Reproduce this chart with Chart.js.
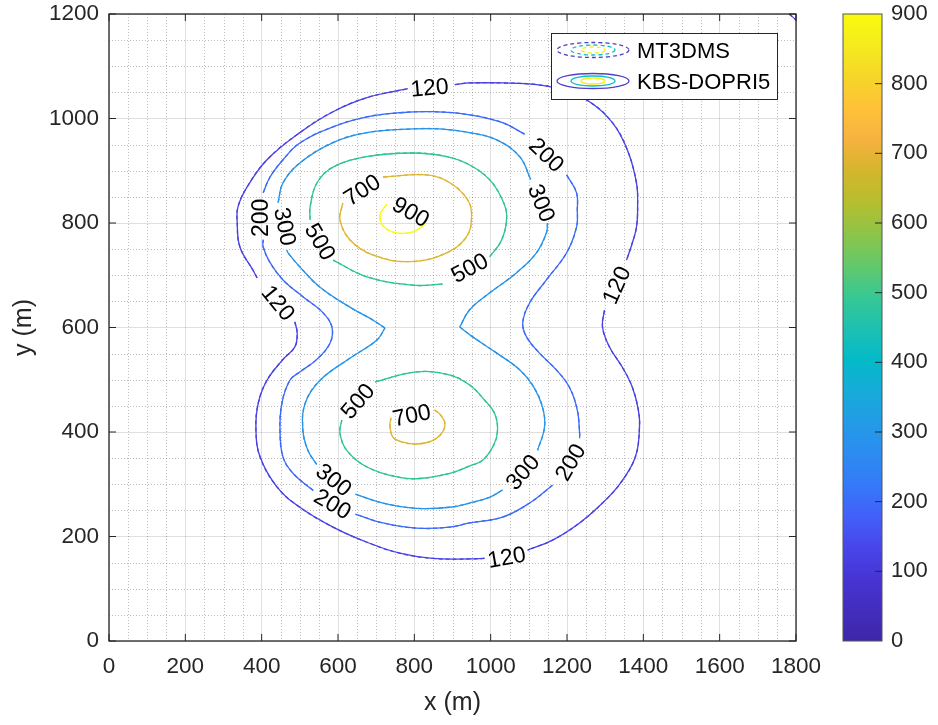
<!DOCTYPE html>
<html>
<head>
<meta charset="utf-8">
<script src="https://cdn.jsdelivr.net/npm/chart.js@4.4.0/dist/chart.umd.min.js"></script>
<style>
  html, body { margin: 0; padding: 0; background: #fff; }
</style>
</head>
<body>
<canvas id="contourChart" width="938" height="725"></canvas>
<script>
// axis ticks
const xTicks = [0, 200, 400, 600, 800, 1000, 1200, 1400, 1600, 1800];
const yTicks = [0, 200, 400, 600, 800, 1000, 1200];
const cbTicks = [0, 100, 200, 300, 400, 500, 600, 700, 800, 900];

// contour levels (concentration)
const levels = [120, 200, 300, 500, 700, 900];

// KBS-DOPRI5 contour lines, [x (m), y (m)], split where the inline labels sit
const kbs120 = [
  [[906, 1065], [945, 1068], [1031, 1068], [1120, 1065], [1188, 1055], [1259, 1032], [1319, 992], [1358, 940], [1382, 877], [1385, 834], [1382, 792], [1369, 757], [1356, 729]],
  [[1298, 633], [1293, 601], [1311, 563], [1345, 524], [1371, 486], [1387, 442], [1390, 409], [1379, 352], [1340, 302], [1293, 264], [1233, 226], [1162, 193], [1097, 174]],
  [[984, 158], [945, 157], [848, 158], [762, 168], [676, 189], [587, 218], [500, 256], [440, 295], [396, 352], [385, 404], [391, 455], [414, 499], [456, 539], [487, 563], [493, 589], [487, 611]],
  [[388, 695], [377, 710], [343, 754], [336, 800], [338, 831], [362, 869], [414, 921], [500, 973], [587, 1013], [676, 1040], [783, 1057]],
  [[1782, 1200], [1800, 1189]]
];
const kbs200 = [
  [[404, 858], [422, 888], [456, 921], [500, 953], [587, 984], [676, 1003], [762, 1011], [848, 1013], [945, 1007], [1031, 992], [1089, 970]],
  [[1199, 892], [1225, 858], [1227, 825], [1225, 792], [1199, 743], [1146, 691], [1102, 647], [1084, 609], [1094, 582], [1128, 551], [1172, 519], [1206, 486], [1227, 442], [1233, 398], [1233, 388]],
  [[1162, 298], [1102, 264], [1031, 237], [945, 226], [893, 218], [806, 216], [718, 226], [645, 243]],
  [[535, 288], [482, 321], [456, 352], [448, 403], [453, 455], [474, 499], [500, 515], [543, 538], [579, 570], [584, 601], [561, 628], [508, 659], [456, 691], [422, 724], [404, 754], [404, 768]]
];
const kbs300 = [
  [[443, 839], [456, 877], [500, 915], [587, 954], [676, 973], [796, 980], [867, 980], [945, 973], [1016, 959], [1076, 927], [1105, 883]],
  [[1149, 800], [1146, 781], [1120, 743], [1068, 705], [997, 666], [945, 634], [919, 601]],
  [[919, 601], [953, 582], [1016, 551], [1076, 519], [1113, 486], [1136, 447], [1141, 409], [1123, 365]],
  [[1031, 289], [997, 275], [945, 264], [893, 256], [806, 254], [718, 264], [645, 281]],
  [[544, 338], [521, 365], [508, 404], [514, 455], [553, 499], [631, 541], [702, 576], [723, 599]],
  [[723, 599], [692, 614], [631, 639], [553, 677], [500, 716], [469, 743], [466, 748]]
];
const kbs500 = [
  [[527, 806], [527, 831], [545, 877], [587, 907], [676, 927], [796, 934], [885, 927], [945, 911], [997, 883], [1031, 844], [1042, 812], [1029, 768], [997, 735]],
  [[874, 683], [796, 681], [676, 697], [587, 729]],
  [[697, 496], [806, 515], [893, 509], [945, 490], [984, 461], [1010, 436], [1018, 404], [1008, 375], [979, 346], [945, 335], [893, 321], [814, 311], [762, 313], [676, 333], [623, 365], [605, 398], [610, 423]]
];
const kbs700 = [
  [[718, 888], [833, 892], [893, 877], [940, 844], [950, 812], [937, 774], [885, 743], [788, 726], [691, 739], [631, 768], [605, 806], [610, 831], [613, 838]],
  [[853, 442], [867, 434], [880, 417], [872, 398], [846, 383], [806, 377], [767, 381], [744, 390], [736, 413], [739, 427]]
];
const kbs900 = [
  [[728, 836], [710, 815], [720, 793], [754, 781], [796, 783], [827, 797]]
];

// MT3DMS lines lie on top of the KBS-DOPRI5 lines at this scale
const mt3dms120 = kbs120;
const mt3dms200 = kbs200;
const mt3dms300 = kbs300;
const mt3dms500 = kbs500;
const mt3dms700 = kbs700;
const mt3dms900 = kbs900;

// inline contour labels: [level, x (m), y (m), angle in degrees]
const contourLabels = [
  [120, 840, 1059, -5], [120, 443, 647, 51], [120, 1330, 681, -66], [120, 1042, 160, -10],
  [200, 398, 810, -90], [200, 1146, 930, 44], [200, 586, 262, 30], [200, 1209, 342, -60],
  [300, 461, 793, 79], [300, 1133, 838, 68], [300, 589, 308, 38], [300, 1084, 323, -49],
  [500, 553, 764, 60], [500, 945, 714, -28], [500, 652, 459, -49],
  [700, 663, 863, -33], [700, 793, 432, -12],
  [900, 791, 821, 30]
];

const kbsLines = [kbs120, kbs200, kbs300, kbs500, kbs700, kbs900];
const mtLines = [mt3dms120, mt3dms200, mt3dms300, mt3dms500, mt3dms700, mt3dms900];

const levelColors = ['rgb(72,66,230)', 'rgb(60,106,250)', 'rgb(38,148,235)', 'rgb(46,196,150)', 'rgb(222,182,48)', 'rgb(249,251,14)'];
const parula = [
  [0, 'rgb(62,38,168)'], [0.1, 'rgb(71,52,212)'], [0.15, 'rgb(72,70,235)'], [0.2, 'rgb(66,96,250)'],
  [0.25, 'rgb(52,122,248)'], [0.3, 'rgb(44,140,240)'], [0.35, 'rgb(34,156,230)'], [0.4, 'rgb(22,172,216)'],
  [0.45, 'rgb(4,186,200)'], [0.5, 'rgb(30,193,176)'], [0.55, 'rgb(56,200,146)'], [0.6, 'rgb(100,201,106)'],
  [0.65, 'rgb(142,196,72)'], [0.7, 'rgb(182,190,46)'], [0.75, 'rgb(212,182,44)'], [0.8, 'rgb(246,178,64)'],
  [0.85, 'rgb(254,194,56)'], [0.9, 'rgb(246,214,40)'], [0.95, 'rgb(245,235,30)'], [1, 'rgb(249,251,14)']
];

const fontFamily = "'Liberation Sans', Arial, Helvetica, sans-serif";
const axisGray = '#262626';

function buildDatasets(lines, dashed) {
  const out = [];
  levels.forEach((lv, i) => {
    lines[i].forEach(seg => {
      out.push({
        label: (dashed ? 'MT3DMS ' : 'KBS-DOPRI5 ') + lv,
        data: seg.map(p => ({ x: p[0], y: p[1] })),
        borderColor: levelColors[i],
        borderWidth: 1.3,
        borderDash: dashed ? [4, 3] : [],
        showLine: true,
        tension: 0.4,
        pointRadius: 0,
        fill: false
      });
    });
  });
  return out;
}

const matlabLook = {
  id: 'matlabLook',
  beforeDatasetsDraw(chart) {
    const { ctx, chartArea: a, scales: { x, y } } = chart;
    ctx.save();
    ctx.strokeStyle = 'rgba(38,38,38,0.3)';
    ctx.lineWidth = 1;
    ctx.setLineDash([1, 2]);
    for (let v = 50; v < x.max; v += 50) {
      if (v % 200 === 0) continue;
      const px = Math.round(x.getPixelForValue(v)) + 0.5;
      ctx.beginPath(); ctx.moveTo(px, a.top); ctx.lineTo(px, a.bottom); ctx.stroke();
    }
    for (let v = 50; v < y.max; v += 50) {
      if (v % 200 === 0) continue;
      const py = Math.round(y.getPixelForValue(v)) + 0.5;
      ctx.beginPath(); ctx.moveTo(a.left, py); ctx.lineTo(a.right, py); ctx.stroke();
    }
    ctx.restore();
  },
  afterDatasetsDraw(chart) {
    const { ctx, chartArea: a, scales: { x, y } } = chart;
    ctx.save();

    // contour labels
    ctx.fillStyle = '#000';
    ctx.font = '23px ' + fontFamily;
    ctx.textAlign = 'center';
    ctx.textBaseline = 'middle';
    contourLabels.forEach(([lv, lx, ly, ang]) => {
      ctx.save();
      ctx.translate(x.getPixelForValue(lx), y.getPixelForValue(ly));
      ctx.rotate(ang * Math.PI / 180);
      ctx.fillText(String(lv), 0, 1);
      ctx.restore();
    });

    // axes box and inward ticks
    ctx.strokeStyle = axisGray;
    ctx.lineWidth = 1.3;
    ctx.setLineDash([]);
    ctx.strokeRect(a.left, a.top, a.right - a.left, a.bottom - a.top);
    ctx.lineWidth = 1;
    xTicks.forEach(v => {
      const px = x.getPixelForValue(v);
      ctx.beginPath();
      ctx.moveTo(px, a.bottom); ctx.lineTo(px, a.bottom - 7);
      ctx.moveTo(px, a.top); ctx.lineTo(px, a.top + 7);
      ctx.stroke();
    });
    yTicks.forEach(v => {
      const py = y.getPixelForValue(v);
      ctx.beginPath();
      ctx.moveTo(a.left, py); ctx.lineTo(a.left + 7, py);
      ctx.moveTo(a.right, py); ctx.lineTo(a.right - 7, py);
      ctx.stroke();
    });

    // axis titles
    ctx.fillStyle = axisGray;
    ctx.font = '25px ' + fontFamily;
    ctx.textAlign = 'center';
    ctx.textBaseline = 'middle';
    ctx.fillText('x (m)', (a.left + a.right) / 2, 703);
    ctx.save();
    ctx.translate(24, (a.top + a.bottom) / 2);
    ctx.rotate(-Math.PI / 2);
    ctx.fillText('y (m)', 0, 0);
    ctx.restore();

    // legend
    const lx0 = a.right - 245, ly0 = a.top + 19, lw = 226, lh = 66;
    ctx.fillStyle = '#fff';
    ctx.fillRect(lx0, ly0, lw, lh);
    ctx.strokeStyle = axisGray;
    ctx.lineWidth = 1;
    ctx.strokeRect(lx0 + 0.5, ly0 + 0.5, lw, lh);
    const rings = [[36, 7.5, 'rgb(84,62,200)'], [22, 5, 'rgb(10,190,200)'], [12, 3, 'rgb(245,238,20)']];
    [[ly0 + 17, [4, 3], 'MT3DMS'], [ly0 + 48, [], 'KBS-DOPRI5']].forEach(([cy, dash, name]) => {
      const cx = lx0 + 42;
      ctx.lineWidth = 1.3;
      ctx.setLineDash(dash);
      rings.forEach(([rx, ry, col]) => {
        ctx.strokeStyle = col;
        ctx.beginPath();
        ctx.ellipse(cx, cy, rx, ry, 0, 0, Math.PI * 2);
        ctx.stroke();
      });
      ctx.setLineDash([]);
      ctx.fillStyle = '#000';
      ctx.font = '22px ' + fontFamily;
      ctx.textAlign = 'left';
      ctx.textBaseline = 'middle';
      ctx.fillText(name, lx0 + 86, cy + 2);
    });

    // colour bar, mapped through the y scale
    const cbMax = cbTicks[cbTicks.length - 1];
    const cbPix = v => y.getPixelForValue(v / cbMax * y.max);
    const cbL = a.right + 47, cbR = a.right + 86;
    const g = ctx.createLinearGradient(0, cbPix(0), 0, cbPix(cbMax));
    parula.forEach(([t, c]) => g.addColorStop(t, c));
    ctx.fillStyle = g;
    ctx.fillRect(cbL, cbPix(cbMax), cbR - cbL, cbPix(0) - cbPix(cbMax));
    ctx.strokeStyle = '#555';
    ctx.lineWidth = 1;
    ctx.strokeRect(cbL, cbPix(cbMax), cbR - cbL, cbPix(0) - cbPix(cbMax));
    ctx.strokeStyle = axisGray;
    ctx.fillStyle = axisGray;
    ctx.font = '22px ' + fontFamily;
    ctx.textAlign = 'left';
    ctx.textBaseline = 'middle';
    cbTicks.forEach(v => {
      const py = cbPix(v);
      if (v > 0 && v < cbMax) {
        ctx.beginPath(); ctx.moveTo(cbR, py); ctx.lineTo(cbR - 7, py); ctx.stroke();
      }
      ctx.fillText(String(v), cbR + 9, py);
    });

    ctx.restore();
  }
};

const ctx = document.getElementById('contourChart').getContext('2d');

Chart.defaults.font.family = fontFamily;
Chart.defaults.font.size = 22.5;
Chart.defaults.color = axisGray;

const config = {
  type: 'scatter',
  data: {
    datasets: buildDatasets(mtLines, true).concat(buildDatasets(kbsLines, false))
  },
  options: {
    responsive: false,
    animation: false,
    events: [],
    layout: {
      padding: { top: 14, right: 142, left: 0, bottom: 0 }
    },
    plugins: {
      legend: { display: false },
      tooltip: { enabled: false }
    },
    scales: {
      x: {
        type: 'linear',
        min: 0,
        max: 1800,
        afterBuildTicks: s => { s.ticks = xTicks.map(v => ({ value: v })); },
        afterFit: s => { s.height = 84; s.paddingLeft = 0; s.paddingRight = 0; },
        ticks: { padding: 12, callback: v => String(v) },
        grid: { color: 'rgba(38,38,38,0.15)', drawTicks: false },
        border: { display: false }
      },
      y: {
        type: 'linear',
        min: 0,
        max: 1200,
        afterBuildTicks: s => { s.ticks = yTicks.map(v => ({ value: v })); },
        afterFit: s => { s.width = 109; s.paddingTop = 0; s.paddingBottom = 0; },
        ticks: { padding: 10, callback: v => String(v) },
        grid: { color: 'rgba(38,38,38,0.15)', drawTicks: false },
        border: { display: false }
      }
    }
  },
  plugins: [matlabLook]
};

const contourChart = new Chart(ctx, config);
</script>
</body>
</html>
